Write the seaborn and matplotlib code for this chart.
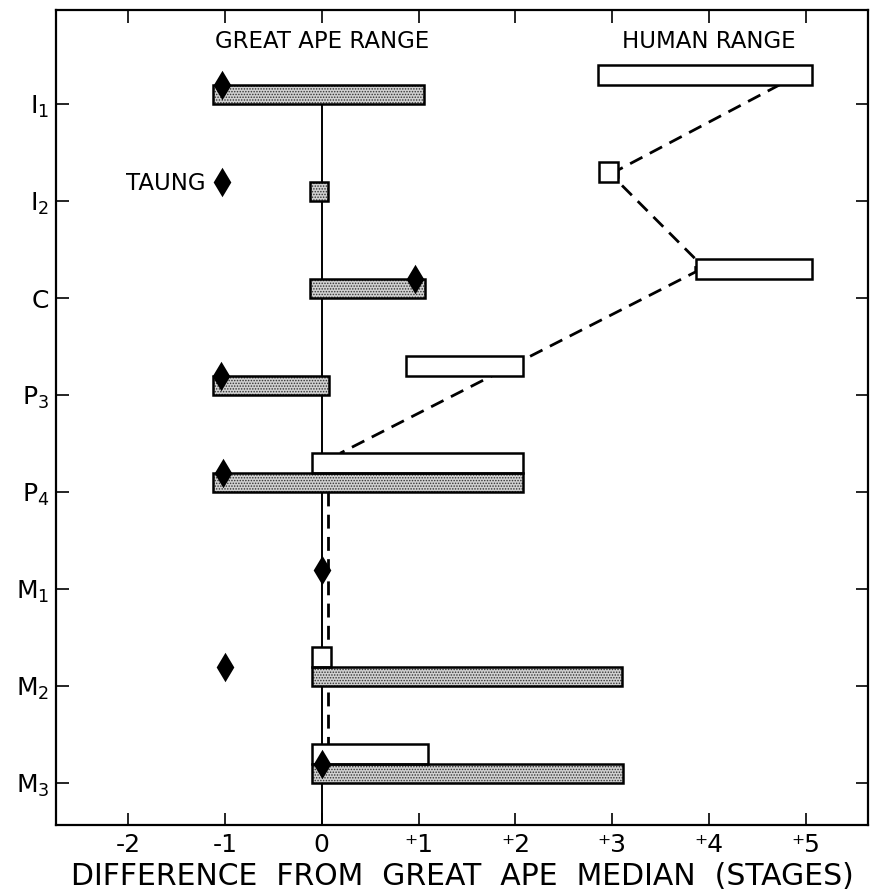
import numpy as np
import matplotlib
matplotlib.use('Agg')
import matplotlib.pyplot as plt
import seaborn as sns

sns.set_style('ticks')
plt.rcParams['font.family'] = ['DejaVu Sans']
plt.rcParams['hatch.linewidth'] = 0.7
for k in ['text.color', 'axes.labelcolor', 'xtick.color', 'ytick.color']:
    plt.rcParams[k] = 'black'

# teeth, top to bottom
teeth = ['I1', 'I2', 'C', 'P3', 'P4', 'M1', 'M2', 'M3']
tooth_labels = [r'$\mathregular{I_1}$', r'$\mathregular{I_2}$', 'C',
                r'$\mathregular{P_3}$', r'$\mathregular{P_4}$',
                r'$\mathregular{M_1}$', r'$\mathregular{M_2}$', r'$\mathregular{M_3}$']

# difference from great ape median (stages); nan = no range drawn
ape_lo = [-1.12, -0.12, -0.12, -1.12, -1.12, np.nan, -0.10, -0.10]
ape_hi = [1.06, 0.07, 1.07, 0.08, 2.08, np.nan, 3.10, 3.11]
human_lo = [2.85, 2.86, 3.86, 0.87, -0.10, np.nan, -0.10, -0.10]
human_hi = [5.06, 3.06, 5.06, 2.08, 2.08, np.nan, 0.10, 1.10]
taung = [-1.03, -1.03, 0.96, -1.04, -1.02, 0.0, -1.0, 0.0]

# dashed links between the human ranges
link1_x = [4.73, 3.06, 3.06, 3.86, 3.86, 0.19]
link1_y = [-0.20, 0.68, 0.80, 1.60, 1.73, 3.60]
link2_x = [0.07, 0.07]
link2_y = [4.00, 6.60]

xticks = [-2, -1, 0, 1, 2, 3, 4, 5]
xtick_labels = ['-2', '-1', '0', '⁺1', '⁺2', '⁺3', '⁺4', '⁺5']

fig = plt.figure(figsize=(8.77, 8.96), dpi=100)
ax = fig.add_axes([0.0639, 0.0792, 0.9258, 0.9096])

rows = np.arange(len(teeth))
ape_lo = np.array(ape_lo); ape_hi = np.array(ape_hi)
human_lo = np.array(human_lo); human_hi = np.array(human_hi)
h = 0.2

# median line
ax.vlines(0, 0, 7.43, color='black', lw=1.4, zorder=1)

# dashed connections
sns.lineplot(x=link1_x, y=link1_y, sort=False, estimator=None, color='black',
             lw=2.0, dashes=False, linestyle=(0, (5, 3)), ax=ax, zorder=2)
sns.lineplot(x=link2_x, y=link2_y, sort=False, estimator=None, color='black',
             lw=2.0, dashes=False, linestyle=(0, (5, 3)), ax=ax, zorder=2)

m = ~np.isnan(ape_lo)
# stippled fill of great ape ranges
ax.barh(rows[m] - h / 2, ape_hi[m] - ape_lo[m], left=ape_lo[m], height=h,
        color='#d0d0d0', edgecolor='#333333', linewidth=0, hatch='......', zorder=3)
ax.barh(rows[m] - h / 2, ape_hi[m] - ape_lo[m], left=ape_lo[m], height=h,
        facecolor='none', edgecolor='black', linewidth=1.8, zorder=4)

m = ~np.isnan(human_lo)
ax.barh(rows[m] - 1.5 * h, human_hi[m] - human_lo[m], left=human_lo[m], height=h,
        facecolor='white', edgecolor='black', linewidth=1.8, zorder=3)

# Taung values
sns.scatterplot(x=taung, y=rows - 0.2, marker='d', s=225, color='black',
                edgecolor='black', linewidth=0, ax=ax, zorder=6)

ax.text(0, -0.64, 'GREAT APE RANGE', ha='center', va='center', fontsize=16.5)
ax.text(4.0, -0.64, 'HUMAN RANGE', ha='center', va='center', fontsize=16.5)
ax.text(-1.2, 0.82, 'TAUNG', ha='right', va='center', fontsize=16.5)

ax.set_xlim(-2.742, 5.638)
ax.set_ylim(7.433, -0.969)
ax.set_xticks(xticks)
ax.set_xticklabels(xtick_labels, fontsize=18)
ax.set_yticks(rows)
ax.set_yticklabels(tooth_labels, fontsize=18)
ax.tick_params(direction='in', length=9, width=1.2, top=True, right=True,
               labeltop=False, labelright=False)
ax.tick_params(axis='x', pad=6)
ax.tick_params(axis='y', pad=5)
ax.set_xlabel('DIFFERENCE  FROM  GREAT  APE  MEDIAN  (STAGES)', fontsize=21.5, labelpad=3)
ax.set_ylabel('')
for s in ax.spines.values():
    s.set_linewidth(1.6)
    s.set_color('black')

fig.savefig('out.png', dpi=100)
